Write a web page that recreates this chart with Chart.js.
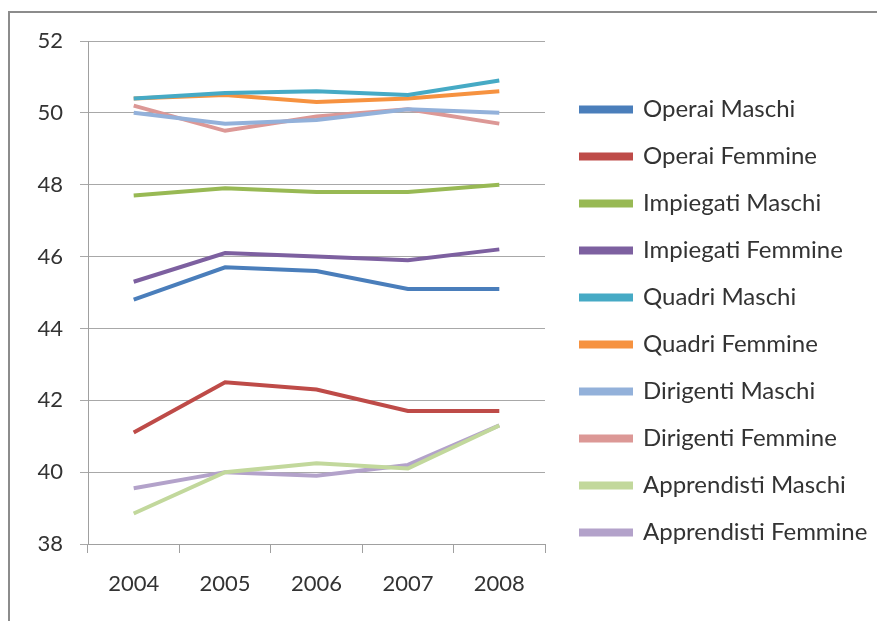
<!DOCTYPE html>
<html>
<head>
<meta charset="utf-8">
<script src="https://cdn.jsdelivr.net/npm/chart.js@4/dist/chart.umd.min.js"></script>
<style>
  body { margin: 0; background: #fff; overflow: hidden; }
  #frame { position: absolute; left: 8px; top: 11px; width: 900px; height: 700px; border: 2px solid #8c8c8c; }
  #wrap { position: absolute; left: 0; top: 0; width: 877px; height: 621px; }
</style>
</head>
<body>
<div id="frame"></div>
<div id="wrap"><canvas id="lineChart" width="877" height="621"></canvas></div>
<script>
// anni e valori
const years = ['2004', '2005', '2006', '2007', '2008'];

const operaiMaschi = [44.8, 45.7, 45.6, 45.1, 45.1];
const operaiFemmine = [41.1, 42.5, 42.3, 41.7, 41.7];
const impiegatiMaschi = [47.7, 47.9, 47.8, 47.8, 48.0];
const impiegatiFemmine = [45.3, 46.1, 46.0, 45.9, 46.2];
const quadriMaschi = [50.4, 50.55, 50.6, 50.5, 50.9];
const quadriFemmine = [50.4, 50.5, 50.3, 50.4, 50.6];
const dirigentiMaschi = [50.0, 49.7, 49.8, 50.1, 50.0];
const dirigentiFemmine = [50.2, 49.5, 49.9, 50.1, 49.7];
const apprendistiMaschi = [38.85, 40.0, 40.25, 40.1, 41.3];
const apprendistiFemmine = [39.55, 40.0, 39.9, 40.2, 41.3];

const yTicks = [38, 40, 42, 44, 46, 48, 50, 52];

function serie(label, data, color) {
    return {
        label: label,
        data: data,
        borderColor: color,
        backgroundColor: color,
        borderWidth: 4,
        pointRadius: 0,
        fill: false,
        tension: 0
    };
}

// legenda larga fissa e spostata come nel riferimento
const legendShift = {
    id: 'legendShift',
    beforeLayout(chart) {
        const legend = chart.legend;
        if (!legend._fitPatched) {
            const fit = legend.fit;
            legend.fit = function() {
                fit.call(this);
                this.width = 332;
            };
            legend._fitPatched = true;
        }
    },
    afterLayout(chart) {
        chart.legend.left += 13;
        chart.legend.top -= 10;
        chart.legend.bottom -= 10;
    }
};

const ctx = document.getElementById('lineChart').getContext('2d');
new Chart(ctx, {
    type: 'line',
    data: {
        labels: years,
        datasets: [
            serie('Operai Maschi', operaiMaschi, '#4A7EBB'),
            serie('Operai Femmine', operaiFemmine, '#BE4B48'),
            serie('Impiegati Maschi', impiegatiMaschi, '#98B954'),
            serie('Impiegati Femmine', impiegatiFemmine, '#7D60A0'),
            serie('Quadri Maschi', quadriMaschi, '#46AAC5'),
            serie('Quadri Femmine', quadriFemmine, '#F69240'),
            serie('Dirigenti Maschi', dirigentiMaschi, '#93B1DA'),
            serie('Dirigenti Femmine', dirigentiFemmine, '#DC9896'),
            serie('Apprendisti Maschi', apprendistiMaschi, '#C2D89C'),
            serie('Apprendisti Femmine', apprendistiFemmine, '#B3A2CA')
        ]
    },
    options: {
        responsive: false,
        animation: false,
        layout: { padding: { top: 41, left: 0, right: 0, bottom: 0 } },
        plugins: {
            tooltip: { enabled: false },
            legend: {
                position: 'right',
                labels: {
                    boxWidth: 50,
                    boxHeight: 4,
                    padding: 23,
                    color: '#333333',
                    font: { family: 'Lato', size: 24 }
                }
            }
        },
        scales: {
            x: {
                offset: true,
                grid: {
                    offset: true,
                    drawOnChartArea: false,
                    drawTicks: true,
                    tickLength: 9,
                    color: '#a0a0a0'
                },
                border: { color: '#a0a0a0' },
                ticks: {
                    color: '#333333',
                    padding: 18,
                    font: { family: 'Lato', size: 22 }
                },
                afterFit(scale) { scale.height = 77; }
            },
            y: {
                min: 38,
                max: 52,
                afterBuildTicks(scale) { scale.ticks = yTicks.map(v => ({ value: v })); },
                grid: { color: '#a8a8a8', tickLength: 8 },
                border: { color: '#a0a0a0' },
                ticks: {
                    color: '#333333',
                    padding: 17,
                    font: { family: 'Lato', size: 22 }
                },
                afterFit(scale) {
                    scale.width = 88;
                    scale.paddingTop = 0;
                    scale.paddingBottom = 0;
                }
            }
        }
    },
    plugins: [legendShift]
});
</script>
</body>
</html>
